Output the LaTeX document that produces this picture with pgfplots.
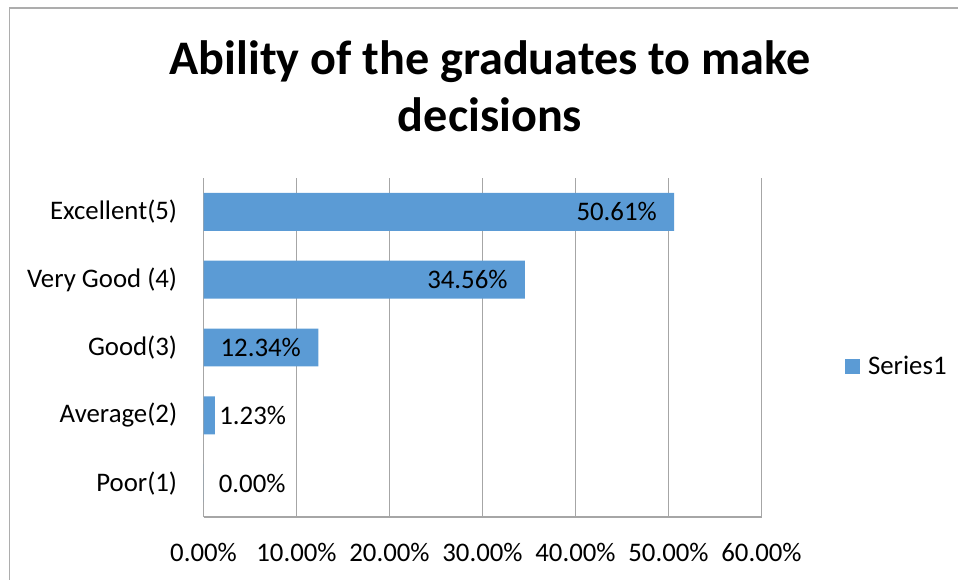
\documentclass[border=0pt]{standalone}
\usepackage{fontspec}
\setmainfont{Carlito}
\usepackage{pgfplots}
\pgfplotsset{compat=1.18}
\definecolor{barblue}{HTML}{5B9BD5}
\definecolor{gridgray}{HTML}{A6A6A6}
\definecolor{framegray}{HTML}{ADADAD}
\begin{document}
\begin{tikzpicture}
\begin{axis}[
  at={(101.75pt,31pt)}, anchor=south west,
  scale only axis, width=279pt, height=169.5pt,
  xmin=0, xmax=60, ymin=0.5, ymax=5.5,
  xtick={0,10,20,30,40,50,60},
  xticklabels={0.00\%,10.00\%,20.00\%,30.00\%,40.00\%,50.00\%,60.00\%},
  ytick={1,2,3,4,5},
  yticklabels={Poor(1),Average(2),Good(3),Very Good (4),Excellent(5)},
  axis x line*=bottom, axis y line*=left,
  axis line style={gridgray, line width=0.6pt},
  xmajorgrids, grid style={gridgray, line width=0.6pt},
  major tick length=0pt,
  tick label style={font=\fontsize{13.4}{15}\selectfont, text=black},
  xticklabel style={inner sep=0pt, anchor=north, yshift=-13pt},
  yticklabel style={inner sep=0pt, anchor=east, xshift=-13pt},
  legend style={at={(1.149,0.4425)}, anchor=west, draw=none, fill=none, inner sep=0pt,
    font=\fontsize{13.4}{15}\selectfont, cells={anchor=west},
    nodes={inner xsep=4pt}},
  legend image code/.code={\fill[barblue] (0pt,-3.75pt) rectangle (7.5pt,3.75pt);},
  clip=false,
]
\addplot[xbar, fill=barblue, draw=none, bar width=0.56, bar shift=0pt]
  coordinates {(0,1) (1.23,2) (12.34,3) (34.56,4) (50.61,5)};
\addlegendentry{Series1}
\addplot[forget plot, draw=none, mark=none, nodes near coords, point meta=explicit symbolic,
  nodes near coords style={anchor=east, xshift=-8.5pt, inner sep=0pt, font=\fontsize{13.4}{15}\selectfont, text=black}]
  coordinates {(12.34,3) [12.34\%] (34.56,4) [34.56\%] (50.61,5) [50.61\%]};
\addplot[forget plot, draw=none, mark=none, nodes near coords, point meta=explicit symbolic,
  nodes near coords style={anchor=west, xshift=2pt, inner sep=0pt, font=\fontsize{13.4}{15}\selectfont, text=black}]
  coordinates {(1.23,2) [1.23\%]};
\addplot[forget plot, draw=none, mark=none, nodes near coords, point meta=explicit symbolic,
  nodes near coords style={anchor=west, xshift=7.5pt, inner sep=0pt, font=\fontsize{13.4}{15}\selectfont, text=black}]
  coordinates {(0,1) [0.00\%]};
\end{axis}
\draw[framegray, line width=0.7pt] (4.75pt,-2pt) -- (4.75pt,285.5pt) -- (481pt,285.5pt);
\node[anchor=base, inner sep=0pt, font=\bfseries\fontsize{24.1}{28}\selectfont] at (245pt,252pt) {Ability of the graduates to make};
\node[anchor=base, inner sep=0pt, font=\bfseries\fontsize{24.1}{28}\selectfont] at (245pt,223.5pt) {decisions};
\pgfresetboundingbox
\useasboundingbox (0,0) rectangle (479pt,289.5pt);
\end{tikzpicture}
\end{document}
